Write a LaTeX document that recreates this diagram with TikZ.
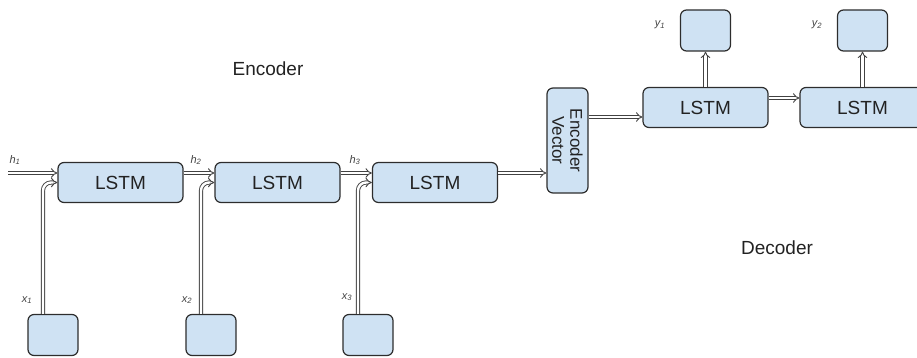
\documentclass[tikz,border=0pt]{standalone}
\usepackage{fontspec}
\setmainfont{Liberation Sans}
\usetikzlibrary{positioning,calc,arrows.meta}
\definecolor{cellblue}{RGB}{207,226,243}
\definecolor{edgegray}{RGB}{45,45,45}
\definecolor{txtgray}{RGB}{34,34,34}

\begin{document}
\begin{tikzpicture}[x=1pt, y=-1pt,
  cell/.style={rectangle, rounded corners=6pt, draw=edgegray, line width=1.2pt,
               fill=cellblue, minimum width=125pt, minimum height=40pt,
               inner sep=0pt, font=\fontsize{19}{22}\selectfont, text=txtgray},
  iobox/.style={cell, minimum width=50pt, minimum height=41pt},
  dblarc/.style={draw=edgegray!90, line width=0.9pt, double=white,
                 double distance=2.4pt, -{Implies[scale=1.2]}},
  lbl/.style={font=\fontsize{11}{13}\selectfont\itshape, text=txtgray!85},
  title/.style={font=\fontsize{19}{22}\selectfont, text=txtgray},
]
\useasboundingbox (0,0) rectangle (917,358);
\clip (0,0) rectangle (917,358);
%─── Encoder ──────────────────────────────────────────────────────────────
\node[title] (enc) at (268,69) {Encoder};
\node[cell] (lstm1) at (120.5,182.5) {LSTM};
\node[cell] (lstm2) at (277.5,182.5) {LSTM};
\node[cell] (lstm3) at (435,182.5) {LSTM};
\node[iobox] (x1) at (53,335) {};
\node[iobox] (x2) at (211,335) {};
\node[iobox] (x3) at (368,335) {};
% hidden states
\coordinate (h1) at (8,173);
\coordinate (h2) at ($(lstm1.east)+(0,-9.5)$);
\coordinate (h3) at ($(lstm2.east)+(0,-9.5)$);
\coordinate (h4) at ($(lstm3.east)+(0,-9.5)$);
\draw[dblarc] (h1) -- (h1 -| lstm1.west);
\draw[dblarc] (h2) -- (h2 -| lstm2.west);
\draw[dblarc] (h3) -- (h3 -| lstm3.west);
\node[lbl] (lh1) at (15,160) {h\textsubscript{1}};
\node[lbl] (lh2) at (196,160) {h\textsubscript{2}};
\node[lbl] (lh3) at (355,160) {h\textsubscript{3}};
% inputs
\coordinate (xin1) at ($(x1.north)+(-10,0)$);
\coordinate (xin2) at ($(x2.north)+(-10,0)$);
\coordinate (xin3) at ($(x3.north)+(-10,0)$);
\draw[dblarc, rounded corners=8pt] (xin1) |- (lstm1.west);
\draw[dblarc, rounded corners=8pt] (xin2) |- (lstm2.west);
\draw[dblarc, rounded corners=8pt] (xin3) |- (lstm3.west);
\node[lbl] (lx1) at (27,300) {x\textsubscript{1}};
\node[lbl] (lx2) at (187,300) {x\textsubscript{2}};
\node[lbl] (lx3) at (347,297) {x\textsubscript{3}};
%─── Encoder vector ───────────────────────────────────────────────────────
\node[cell, minimum width=41pt, minimum height=105pt] (vec) at (567.5,140.5) {};
\node[rotate=-90, align=center, text=txtgray,
      font=\fontsize{17}{18}\selectfont] (vectxt) at (vec.center) {Encoder\\Vector};
\draw[dblarc] (h4) -- (h4 -| vec.west);
%─── Decoder ──────────────────────────────────────────────────────────────
\node[title] (dec) at (777,248) {Decoder};
\node[cell] (dec1) at (705.5,107.5) {LSTM};
\node[cell] (dec2) at (862.5,107.5) {LSTM};
\node[iobox] (y1) at (705.5,30.5) {};
\node[iobox] (y2) at (862.5,30.5) {};
\coordinate (d0) at ($(dec1.west)+(0,9.5)$);
\coordinate (d1) at ($(dec1.east)+(0,-9.5)$);
\coordinate (u1) at (dec1.north);
\coordinate (u2) at (dec2.north);
\draw[dblarc] (d0 -| vec.east) -- (d0);
\draw[dblarc] (d1) -- (d1 -| dec2.west);
\draw[dblarc] (u1) -- (u1 |- y1.south);
\draw[dblarc] (u2) -- (u2 |- y2.south);
\node[lbl] (ly1) at (660,25) {y\textsubscript{1}};
\node[lbl] (ly2) at (817,25) {y\textsubscript{2}};
\end{tikzpicture}
\end{document}
